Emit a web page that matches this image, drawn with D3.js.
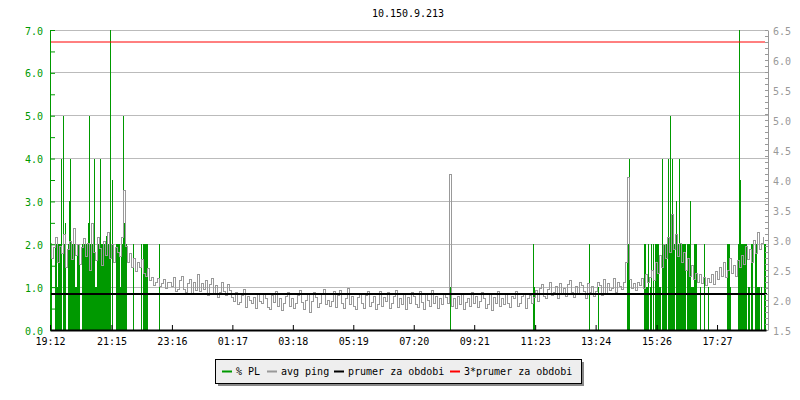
<!DOCTYPE html>
<html>
<head>
<meta charset="utf-8">
<script src="https://cdn.jsdelivr.net/npm/d3@7"></script>
<style>
  body { margin: 0; background: #fff; }
  svg { display: block; }
</style>
</head>
<body>
<div class="container"></div>
<script>
// chart title
const titleText = "10.150.9.213";

// x axis labels (clock time), first one is start of the period
const timeLabels = ["19:12","21:15","23:16","01:17","03:18","05:19","07:20","09:21","11:23","13:24","15:26","17:27"];
const periodMinutes = 1433;

// avg ping, one sample every 4 minutes from 19:12 (right axis)
const pingStep = 4;
const ping = [
  2.95,2.70,2.88,3.05,2.62,2.90,2.78,3.10,2.55,2.85,2.98,2.68,3.20,2.75,2.92,
  2.60,2.88,3.02,2.72,2.95,2.50,3.28,2.80,2.66,3.05,2.86,2.58,2.98,2.74,3.12,
  2.70,2.92,2.62,2.88,2.80,2.72,3.05,3.83,2.90,2.62,2.78,2.55,2.70,2.48,2.62,
  2.55,2.68,2.45,2.40,2.52,2.33,2.38,2.25,2.30,2.36,2.22,2.28,2.34,2.20,2.30,
  2.30,2.22,2.38,2.14,2.18,2.32,2.40,2.18,2.12,2.28,2.34,2.10,2.30,2.16,2.42,
  2.14,2.28,2.18,2.32,2.08,2.26,2.36,2.10,2.24,2.04,2.12,2.30,2.14,2.08,2.26,
  2.16,2.04,1.98,2.12,1.92,1.96,2.08,2.18,1.88,2.06,2.00,1.94,2.04,1.86,2.10,
  1.98,1.95,2.10,2.02,1.88,1.84,2.08,1.96,2.14,1.90,2.02,1.82,1.94,2.06,2.12,
  1.90,2.02,1.86,1.94,2.08,2.16,1.96,1.85,2.00,2.10,1.80,1.98,2.12,2.04,1.88,
  1.94,2.10,2.18,1.92,2.00,1.90,1.98,2.14,1.88,2.08,2.16,1.95,1.86,2.02,2.20,
  1.92,2.06,1.90,1.84,2.04,2.10,1.94,1.86,2.08,2.14,1.90,1.96,2.06,1.85,1.92,
  2.15,1.90,2.04,1.98,2.12,1.86,1.94,2.06,2.16,1.88,2.02,1.92,2.10,1.85,2.05,
  1.94,2.12,2.06,1.92,1.88,2.14,1.96,1.84,2.10,2.00,1.90,2.16,1.94,2.06,1.86,
  2.02,1.92,2.10,2.04,1.94,4.10,1.90,2.02,1.86,2.06,1.92,2.10,1.84,1.96,2.02,
  1.90,2.12,1.94,2.06,1.88,1.98,2.12,2.02,1.86,1.92,2.10,1.82,2.04,1.95,2.14,
  1.90,2.02,1.92,2.10,1.95,1.88,2.06,2.02,2.14,1.90,1.94,2.06,2.10,1.86,2.02,
  2.08,1.95,2.04,2.16,1.98,2.20,2.26,2.06,2.02,2.18,2.30,2.08,2.12,2.22,2.02,
  2.28,2.10,2.20,2.06,2.26,2.32,2.12,2.04,2.22,2.10,2.30,2.24,2.14,2.02,2.28,
  2.12,2.22,2.06,2.14,2.30,2.24,2.08,2.34,2.10,2.28,2.16,2.20,2.36,2.12,2.30,
  2.22,2.18,2.30,2.62,4.05,2.34,2.20,2.28,2.16,2.30,2.24,2.36,2.20,2.42,2.30,
  2.38,2.50,2.32,2.62,2.45,2.75,2.55,2.92,2.70,3.05,2.80,3.42,2.85,3.10,2.72,
  2.95,2.62,2.80,2.50,2.70,2.40,2.58,2.35,2.45,2.30,2.42,2.28,2.38,2.25,2.36,
  2.30,2.42,2.26,2.48,2.35,2.55,2.40,2.62,2.38,2.50,2.70,2.45,2.58,2.40,2.66,
  2.55,2.75,2.60,2.90,2.68,2.85,2.62,3.00,2.78,3.12,2.85,2.95,3.05
];

// % packet loss: [from minute, to minute, value] (left axis)
const plSpans = [
  [0,5,2],[10,14,2],[14,17,1],[17,23,2],[23,25,4],[26,28,5],[28,30,2],[30,32,2.5],
  [36,38,2],[38,40,3],[41,43,4],[43,50,2],[50,54,1],[54,60,2],
  [64,76,2],[76,78,2.5],[79,81,5],[81,89,2],[89,91,4],[91,94,1],[94,101,2],[101,103,4],
  [103,112,2],[112,114,2.2],[114,121,2],[121,123,8],[125,127,3.5],
  [132,140,2],[140,143,1],[143,146,2],[146,148,5],[148,150,2.5],[150,154,2],
  [166,168,2],[182,184,2],[186,196,2],[218,220,2],
  [801,803,1],[967,969,2],[969,971,1],[1079,1081,2],[1097,1099,1],
  [1155,1159,2],[1159,1161,4],
  [1188,1192,2],[1192,1196,1],[1196,1198,2],[1200,1202,1],[1202,1204,2],[1206,1208,2],
  [1210,1218,2],[1218,1222,1],[1224,1226,4],[1226,1234,2],[1236,1238,4],[1238,1240,2],
  [1240,1242,5],[1242,1244,2],[1244,1246,4],[1246,1250,2],[1253,1255,3],[1255,1258,2],
  [1258,1260,4],[1260,1272,2],[1274,1280,2],[1280,1282,3],[1282,1288,1],[1288,1294,2],
  [1300,1302,1],[1308,1310,2],[1316,1318,1],[1354,1360,2],[1360,1362,1],[1376,1378,2],
  [1378,1380,8],[1380,1382,3.5],[1382,1394,2],[1396,1400,1],[1402,1406,2],[1410,1414,2],
  [1414,1420,1],[1422,1424,1],[1428,1433,2]
];

// period average and 3x average (right axis)
const prumer = 2.1;
const prumer3 = 6.3;

// legend
const legendLabels = ["% PL","avg ping","prumer za obdobi","3*prumer za obdobi"];
const legendColors = ["#009900","#999999","#000000","#ff0000"];

const mono = "'DejaVu Sans Mono', monospace";
const green = "#009900";

const margin = {top:30, right:32, bottom:70, left:50};
const width = 800, height = 400;
const plotW = width - margin.left - margin.right;
const plotH = height - margin.top - margin.bottom;

const svg = d3.select("div.container").append("svg")
    .attr("width", width)
    .attr("height", height)
    .style("font-family", mono);

// title
svg.append("text")
    .attr("x", margin.left + (plotW - 2) / 2)
    .attr("y", 17)
    .attr("text-anchor","middle")
    .style("font-size","10px")
    .text(titleText);

const g = svg.append("g")
    .attr("transform",`translate(${margin.left},${margin.top})`);

// scales
const x = d3.scaleLinear().domain([0, periodMinutes]).range([0, plotW - 2]);
const yPL = d3.scaleLinear().domain([0, 7]).range([plotH, 0]).clamp(true);
const yPing = d3.scaleLinear().domain([1.5, 6.5]).range([plotH, 0]);

// minutes since start for each time label
const startMin = +timeLabels[0].slice(0,2) * 60 + +timeLabels[0].slice(3);
const timeTicks = timeLabels.map(s => {
    let m = +s.slice(0,2) * 60 + +s.slice(3) - startMin;
    return m < 0 ? m + 1440 : m;
});

// grid lines on the left axis integers
g.append("g").selectAll("line")
    .data(d3.range(1, 8))
    .enter().append("line")
    .attr("x1", 0).attr("x2", plotW)
    .attr("y1", d => yPL(d)).attr("y2", d => yPL(d))
    .attr("stroke","#bbbbbb")
    .attr("shape-rendering","crispEdges");

// packet loss bars
g.append("g").selectAll("rect")
    .data(plSpans)
    .enter().append("rect")
    .attr("x", d => x(d[0]))
    .attr("width", d => Math.max(1, x(d[1]) - x(d[0])))
    .attr("y", d => yPL(d[2]))
    .attr("height", d => plotH - yPL(d[2]))
    .attr("fill", green)
    .attr("shape-rendering","crispEdges");

// avg ping line, drawn as steps like the original per-sample plot
const pingLine = d3.line()
    .x((d,i) => x(i * pingStep))
    .y(d => yPing(d))
    .curve(d3.curveStepAfter);

g.append("path")
    .datum(ping)
    .attr("d", pingLine)
    .attr("fill","none")
    .attr("stroke","#999999")
    .attr("stroke-width",1)
    .attr("shape-rendering","crispEdges");

// average lines
g.append("line")
    .attr("x1", 1).attr("x2", plotW - 1)
    .attr("y1", yPing(prumer)).attr("y2", yPing(prumer))
    .attr("stroke","#000").attr("stroke-width",2);

g.append("line")
    .attr("x1", 0).attr("x2", plotW - 3)
    .attr("y1", yPing(prumer3)).attr("y2", yPing(prumer3))
    .attr("stroke","#ff0000").attr("stroke-width",1);

// left axis (packet loss)
const leftAxis = g.append("g")
    .style("color", green)
    .call(d3.axisLeft(yPL)
        .tickValues(d3.range(0, 7.01, 0.5))
        .tickSize(-5)
        .tickSizeOuter(0)
        .tickPadding(7)
        .tickFormat(d => d % 1 === 0 ? d.toFixed(1) : ""));
leftAxis.attr("font-family", mono).attr("font-size", 10);
leftAxis.selectAll("text").attr("dy","0.4em");

// right axis (ping)
const rightAxis = g.append("g")
    .attr("transform",`translate(${plotW},0)`)
    .style("color","#999999")
    .call(d3.axisRight(yPing)
        .tickValues(d3.range(15, 66).map(d => d / 10))
        .tickSize(-3)
        .tickSizeOuter(0)
        .tickPadding(5)
        .tickFormat(d => Math.round(d * 10) % 5 === 0 ? d.toFixed(1) : ""));
rightAxis.attr("font-family", mono).attr("font-size", 10);
rightAxis.selectAll("text").attr("dy","0.4em");

// bottom axis (time)
const bottomAxis = g.append("g")
    .attr("transform",`translate(0,${plotH})`)
    .style("color","#000")
    .call(d3.axisBottom(x)
        .tickValues(timeTicks)
        .tickSize(-5)
        .tickSizeOuter(0)
        .tickPadding(8)
        .tickFormat((d,i) => timeLabels[i]));
bottomAxis.attr("font-family", mono).attr("font-size", 10);
bottomAxis.select(".domain").attr("stroke-width", 2);

// legend box with shadow
const legend = svg.append("g").attr("transform","translate(215,359)");
legend.append("rect")
    .attr("x",3).attr("y",3).attr("width",366).attr("height",24)
    .attr("fill","#888");
legend.append("rect")
    .attr("x",0.5).attr("y",0.5).attr("width",366).attr("height",24)
    .attr("fill","#eeeeee").attr("stroke","#000");

const legendX = [7, 52, 119, 235];
legendLabels.forEach((label, i) => {
    legend.append("line")
        .attr("x1", legendX[i]).attr("x2", legendX[i] + 10)
        .attr("y1", 12.5).attr("y2", 12.5)
        .attr("stroke", legendColors[i]).attr("stroke-width", 2);
    legend.append("text")
        .attr("x", legendX[i] + 14)
        .attr("y", 16)
        .style("font-size","10px")
        .text(label);
});
</script>
</body>
</html>
